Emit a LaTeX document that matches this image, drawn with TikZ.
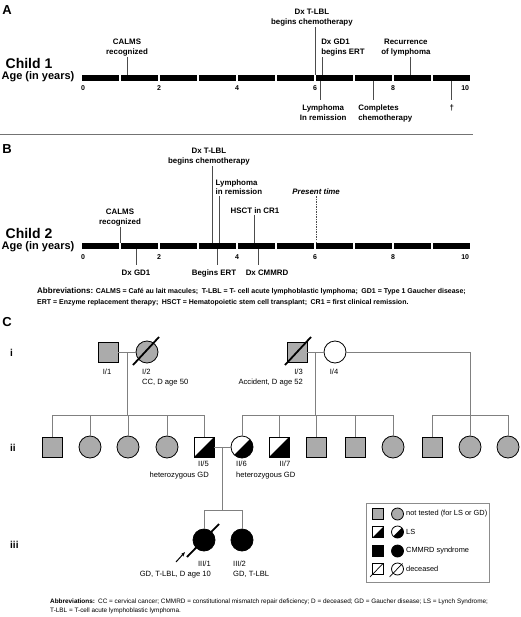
\documentclass[tikz,border=0pt]{standalone}
\usepackage{fontspec}
\setmainfont{Liberation Sans}
\usetikzlibrary{shapes.geometric, arrows.meta, positioning, calc}

\begin{document}
\begin{tikzpicture}[
  x=1pt, y=-1pt,
  panel/.style={font=\fontsize{13}{13}\selectfont\bfseries, inner sep=0pt},
  childlbl/.style={font=\fontsize{14}{14}\selectfont\bfseries, inner sep=0pt},
  agelbl/.style={font=\fontsize{11}{11}\selectfont\bfseries, inner sep=0pt},
  num/.style={font=\fontsize{7}{7}\selectfont\bfseries, inner sep=0pt},
  up/.style={font=\fontsize{7.9}{9.6}\selectfont\bfseries, align=center, inner sep=1pt},
  down/.style={up, inner ysep=5pt},
  evt/.style={draw=black!70, line width=0.9pt},
  abbr/.style={font=\fontsize{7}{11}\selectfont\bfseries, align=left, inner sep=0pt, anchor=north west},
  gen/.style={font=\fontsize{10}{10}\selectfont\bfseries, inner sep=0pt, anchor=west},
  plbl/.style={font=\fontsize{7.6}{9.5}\selectfont, inner sep=0pt},
  pl/.style={draw=black!50, line width=0.8pt},
  dec/.style={draw=black, line width=1.8pt},
  sym/.style={draw, line width=0.8pt, inner sep=0pt},
  sq/.style={sym, rectangle, minimum size=20pt},
  ci/.style={sym, circle, minimum size=22pt},
  ntfill/.style={fill=black!33},
  lsfill/.style={path picture={\fill (path picture bounding box.south west) -- (path picture bounding box.south east) -- (path picture bounding box.north east) -- cycle;}},
  cmfill/.style={fill=black},
  ntsq/.style={sq, ntfill}, ntci/.style={ci, ntfill},
  lssq/.style={sq, lsfill}, lsci/.style={ci, lsfill},
  cmci/.style={ci, cmfill},
  lgsq/.style={sym, rectangle, minimum size=10.5pt},
  lgci/.style={sym, circle, minimum size=12pt},
  lgt/.style={font=\fontsize{7.4}{7.4}\selectfont, inner sep=0pt, anchor=west}
]
\useasboundingbox (0,0) rectangle (520,617);

\node[panel] (pA) at (7,10) {A};
\node[childlbl] (c1) at (29,63) {Child 1};
\node[agelbl] (age1) at (38,77) {Age (in years)};

\begin{scope}[xshift=81pt, x=39pt]
  \foreach \i in {0,...,9}
    \fill (\i+0.015,75) rectangle (\i+0.985,81);
  \foreach \n/\p in {0/0.05, 2/2, 4/4, 6/6, 8/8, 10/9.85}
    \node[num] (nA\n) at (\p,88) {\n};

  \coordinate (tA1) at (1.18,75);
  \coordinate (tA2) at (6,75);
  \coordinate (tA3) at (6.2,75);
  \coordinate (tA4) at (8.44,75);
  \coordinate (bA1) at (6.13,81);
  \coordinate (bA2) at (7.51,81);
  \coordinate (bA3) at (9.51,81);

  \node[up, anchor=south] (calmsA) at (1.18,57) {CALMS\\recognized};
  \node[up, anchor=south] (tlblA) at (5.92,27) {Dx T-LBL\\begins chemotherapy};
  \node[up, anchor=south west, align=left] (gdA) at (6.13,57) {Dx GD1\\begins ERT};
  \node[up, anchor=south] (recA) at (8.33,57) {Recurrence\\of lymphoma};
  \node[down, anchor=north] (remA) at (6.21,100) {Lymphoma\\In remission};
  \node[down, anchor=north west, align=left] (compA) at (7.08,100) {Completes\\chemotherapy};
  \node[down, anchor=north] (deathA) at (9.51,100) {†};

  \draw[evt] (tA1) -- (tA1 |- calmsA.south);
  \draw[evt] (tA2) -- (tA2 |- tlblA.south);
  \draw[evt] (tA3) -- (tA3 |- gdA.south);
  \draw[evt] (tA4) -- (tA4 |- recA.south);
  \draw[evt] (bA1) -- (bA1 |- remA.north);
  \draw[evt] (bA2) -- (bA2 |- compA.north);
  \draw[evt] (bA3) -- (bA3 |- deathA.north);
\end{scope}

\draw[black!55, line width=0.8pt] (0,134) -- (473,134);

\node[panel] (pB) at (7,149) {B};
\node[childlbl] (c2) at (29,233) {Child 2};
\node[agelbl] (age2) at (38,247) {Age (in years)};

\begin{scope}[xshift=81pt, x=39pt]
  \foreach \i in {0,...,9}
    \fill (\i+0.015,243) rectangle (\i+0.985,249);
  \foreach \n/\p in {0/0.05, 2/2, 4/4, 6/6, 8/8, 10/9.85}
    \node[num] (nB\n) at (\p,257) {\n};

  \coordinate (tB1) at (1.0,243);
  \coordinate (tB2) at (3.38,243);
  \coordinate (tB3) at (3.56,243);
  \coordinate (tB4) at (4.46,243);
  \coordinate (tB5) at (6.03,243);
  \coordinate (bB1) at (1.41,249);
  \coordinate (bB2) at (3.49,249);
  \coordinate (bB3) at (4.56,249);

  \node[up, anchor=south] (calmsB) at (1.0,227) {CALMS\\recognized};
  \node[up, anchor=south] (tlblB) at (3.28,166) {Dx T-LBL\\begins chemotherapy};
  \node[up, anchor=south west, align=left] (remB) at (3.42,196) {Lymphoma\\in remission};
  \node[up, anchor=south] (hsctB) at (4.46,215) {HSCT in CR1};
  \node[up, anchor=south, font=\fontsize{7.9}{9.6}\selectfont\bfseries\itshape] (nowB) at (6.03,196) {Present time};
  \node[down, anchor=north] (gdB) at (1.41,265) {Dx GD1};
  \node[down, anchor=north] (ertB) at (3.41,265) {Begins ERT};
  \node[down, anchor=north] (cmB) at (4.77,265) {Dx CMMRD};

  \draw[evt] (tB1) -- (tB1 |- calmsB.south);
  \draw[evt] (tB2) -- (tB2 |- tlblB.south);
  \draw[evt] (tB3) -- (tB3 |- remB.south);
  \draw[evt] (tB4) -- (tB4 |- hsctB.south);
  \draw[evt, dashed, dash pattern=on 1.5pt off 1pt] (tB5) -- (tB5 |- nowB.south);
  \draw[evt] (bB1) -- (bB1 |- gdB.north);
  \draw[evt] (bB2) -- (bB2 |- ertB.north);
  \draw[evt] (bB3) -- (bB3 |- cmB.north);
\end{scope}

\node[abbr] (abbrB) at (37,288) {{\fontsize{8}{8}\selectfont Abbreviations:} CALMS = Café au lait macules;\enspace T-LBL = T- cell acute lymphoblastic lymphoma;\enspace GD1 = Type 1 Gaucher disease;\\ERT = Enzyme replacement therapy;\enspace HSCT = Hematopoietic stem cell transplant;\enspace CR1 = first clinical remission.};

\node[panel] (pC) at (7,322) {C};
\node[gen] (g1) at (10,353) {i};
\node[gen] (g2) at (10,448) {ii};
\node[gen] (g3) at (10,545) {iii};

\coordinate (sib1) at (0,415);
\coordinate (sib3) at (0,510);

\node[ntsq] (I1) at (108,352) {};
\node[ntci] (I2) at (147,352) {};
\node[ntsq] (I3) at (297,352) {};
\node[ci] (I4) at (335,352) {};

\foreach \x/\s [count=\i] in {52/ntsq, 90/ntci, 128/ntci, 167/ntci, 204/lssq, 242/lsci, 279/lssq, 316/ntsq, 355/ntsq, 393/ntci, 432/ntsq, 470/ntci, 508/ntci}
  \node[\s] (II\i) at (\x,447) {};

\node[cmci] (III1) at (204,540) {};
\node[cmci] (III2) at (242,540) {};

\coordinate (m1) at ($(I1.east)!0.5!(I2.west)$);
\coordinate (m2) at ($(I3.east)!0.5!(I4.west)$);
\coordinate (m3) at ($(II5.east)!0.5!(II6.west)$);
\coordinate (r4) at (470,352);

\draw[pl] (I1) -- (I2);
\draw[pl] (I3) -- (I4);
\draw[pl] (I4) -- (r4) -- (r4 |- sib1);
\draw[pl] (m1) -- (m1 |- sib1);
\draw[pl] (m2) -- (m2 |- sib1);
\draw[pl] (II1.north |- sib1) -- (II5.north |- sib1);
\draw[pl] (II6.north |- sib1) -- (II10.north |- sib1);
\draw[pl] (II11.north |- sib1) -- (II13.north |- sib1);
\foreach \i in {1,...,13}
  \draw[pl] (II\i.north) -- (II\i.north |- sib1);
\draw[pl] (II5) -- (II6);
\draw[pl] (m3) -- (m3 |- sib3);
\draw[pl] (III1.north |- sib3) -- (III2.north |- sib3);
\draw[pl] (III1.north) -- (III1.north |- sib3);
\draw[pl] (III2.north) -- (III2.north |- sib3);

\draw[dec] ($(I2)+(-14,13)$) -- ($(I2)+(12,-15)$);
\draw[dec] ($(I3)+(-12,13)$) -- ($(I3)+(14,-15)$);
\draw[dec] ($(III1)+(-17,17)$) -- ($(III1)+(15,-16)$);
\draw[-{Stealth[length=4.5pt, width=3.5pt]}, line width=1pt] ($(III1)+(-28,22)$) -- ($(III1)+(-19,12)$);

\node[plbl] (lI1) at (107,372) {I/1};
\node[plbl, anchor=north west, align=left] (lI2) at (142,369) {I/2\\CC, D age 50};
\node[plbl, anchor=north east, align=right] (lI3) at (303,369) {I/3\\Accident, D age 52};
\node[plbl] (lI4) at (334,372) {I/4};
\node[plbl, font=\fontsize{7.6}{11}\selectfont, anchor=north east, align=right] (lII5) at (209,461) {II/5\\heterozygous GD};
\node[plbl, font=\fontsize{7.6}{11}\selectfont, anchor=north west, align=left] (lII6) at (236,461) {II/6\\heterozygous GD};
\node[plbl] (lII7) at (285,464) {II/7};
\node[plbl, anchor=north east, align=right] (lIII1) at (211,561) {III/1\\GD, T-LBL, D age 10};
\node[plbl, anchor=north west, align=left] (lIII2) at (233,561) {III/2\\GD, T-LBL};

\node[draw=black!45, line width=0.8pt, minimum width=123pt, minimum height=79pt] (legend) at (427.5,542.5) {};
\node[lgsq, ntfill] (kS1) at (378,514) {};
\node[lgci, ntfill] (kC1) at (397.5,514) {};
\node[lgsq, lsfill] (kS2) at (378,532) {};
\node[lgci, lsfill] (kC2) at (397.5,532) {};
\node[lgsq, cmfill] (kS3) at (378,551) {};
\node[lgci, cmfill] (kC3) at (397.5,551) {};
\node[lgsq] (kS4) at (378,569) {};
\node[lgci] (kC4) at (397.5,569) {};
\draw[line width=0.7pt] ($(kS4)+(-8,8)$) -- ($(kS4)+(5,-5.5)$);
\draw[line width=0.7pt] ($(kC4)+(-8,8)$) -- ($(kC4)+(5,-5.5)$);
\node[lgt] (kT1) at (406,514) {not tested (for LS or GD)};
\node[lgt] (kT2) at (406,532) {LS};
\node[lgt] (kT3) at (406,551) {CMMRD syndrome};
\node[lgt] (kT4) at (406,569) {deceased};

\node[abbr, font=\fontsize{6.4}{9}\selectfont] (abbrC) at (50,599) {\textbf{Abbreviations:}\enspace CC = cervical cancer; CMMRD = constitutional mismatch repair deficiency; D = deceased; GD = Gaucher disease; LS = Lynch Syndrome;\\T-LBL = T-cell acute lymphoblastic lymphoma.};
\end{tikzpicture}
\end{document}
